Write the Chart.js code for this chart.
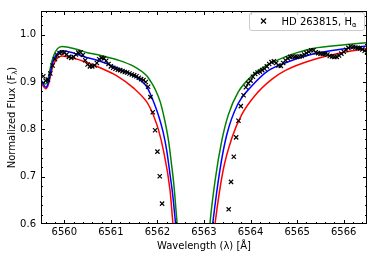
<!DOCTYPE html>
<html>
<head>
<meta charset="utf-8">
<script src="https://cdn.jsdelivr.net/npm/chart.js@4.4.1/dist/chart.umd.min.js"></script>
<style>
html, body { margin: 0; padding: 0; background: #fff; }
</style>
</head>
<body>
<canvas id="halphaChart" width="374" height="262"></canvas>
<script>
// observed spectrum (black crosses)
var obsWave = [6559.55, 6559.60, 6559.65, 6559.70, 6559.75, 6559.80, 6559.85, 6559.90, 6559.95, 6560.00,
	6560.05, 6560.10, 6560.15, 6560.20, 6560.25, 6560.30, 6560.35, 6560.40, 6560.45, 6560.50,
	6560.55, 6560.60, 6560.65, 6560.70, 6560.75, 6560.80, 6560.85, 6560.90, 6560.95, 6561.00,
	6561.05, 6561.10, 6561.15, 6561.20, 6561.25, 6561.30, 6561.35, 6561.40, 6561.45, 6561.50,
	6561.55, 6561.60, 6561.65, 6561.70, 6561.75, 6561.80, 6561.85, 6561.90, 6561.95, 6562.00,
	6562.05, 6562.10,
	6563.53, 6563.58, 6563.64, 6563.69, 6563.74, 6563.79, 6563.85, 6563.90, 6563.95, 6564.00,
	6564.05, 6564.10, 6564.15, 6564.20, 6564.25, 6564.30, 6564.35, 6564.40, 6564.45, 6564.50,
	6564.55, 6564.60, 6564.65, 6564.70, 6564.75, 6564.80, 6564.85, 6564.90, 6564.95, 6565.00,
	6565.05, 6565.10, 6565.15, 6565.20, 6565.25, 6565.30, 6565.35, 6565.40, 6565.45, 6565.50,
	6565.55, 6565.60, 6565.65, 6565.70, 6565.75, 6565.80, 6565.85, 6565.90, 6565.95, 6566.00,
	6566.05, 6566.10, 6566.15, 6566.20, 6566.25, 6566.30, 6566.35, 6566.40, 6566.45, 6566.50];
var obsFlux = [0.912, 0.903, 0.905, 0.918, 0.935, 0.948, 0.956, 0.961, 0.963, 0.962,
	0.958, 0.953, 0.951, 0.953, 0.958, 0.962, 0.963, 0.957, 0.946, 0.937,
	0.933, 0.933, 0.935, 0.940, 0.948, 0.951, 0.950, 0.945, 0.938, 0.933,
	0.930, 0.928, 0.926, 0.925, 0.923, 0.921, 0.920, 0.918, 0.916, 0.914,
	0.912, 0.909, 0.906, 0.904, 0.900, 0.890, 0.868, 0.836, 0.798, 0.753,
	0.701, 0.643,
	0.631, 0.689, 0.742, 0.783, 0.818, 0.849, 0.872, 0.889, 0.897, 0.903,
	0.911, 0.917, 0.920, 0.922, 0.925, 0.928, 0.933, 0.938, 0.942, 0.944,
	0.940, 0.935, 0.934, 0.940, 0.946, 0.950, 0.953, 0.954, 0.953, 0.953,
	0.954, 0.955, 0.958, 0.961, 0.964, 0.967, 0.967, 0.963, 0.961, 0.960,
	0.959, 0.959, 0.958, 0.955, 0.954, 0.953, 0.953, 0.956, 0.960, 0.964,
	0.968, 0.972, 0.975, 0.974, 0.973, 0.972, 0.971, 0.969, 0.966, 0.963];

// model profiles
var greenWave = [6559.50, 6559.55, 6559.60, 6559.65, 6559.70, 6559.77, 6559.85, 6559.95, 6560.10, 6560.30,
	6560.50, 6560.70, 6560.90, 6561.13, 6561.49, 6561.77, 6561.85, 6561.95, 6562.06, 6562.15,
	6562.24, 6562.30, 6562.35, 6562.42, 6562.48, 6562.80, 6563.08, 6563.13, 6563.24, 6563.38,
	6563.52, 6563.73, 6564.03, 6564.38, 6564.74, 6565.00, 6565.34, 6566.07, 6566.50];
var greenFlux = [0.903, 0.897, 0.896, 0.906, 0.930, 0.955, 0.970, 0.975, 0.973, 0.968,
	0.962, 0.958, 0.953, 0.947, 0.933, 0.913, 0.902, 0.885, 0.858, 0.822,
	0.775, 0.728, 0.686, 0.604, 0.540, 0.300, 0.540, 0.603, 0.693, 0.775,
	0.830, 0.878, 0.913, 0.937, 0.953, 0.962, 0.971, 0.979, 0.983];

var blueWave = [6559.50, 6559.55, 6559.61, 6559.66, 6559.72, 6559.77, 6559.85, 6559.95, 6560.20, 6560.41,
	6560.77, 6561.13, 6561.49, 6561.77, 6561.85, 6561.93, 6562.02, 6562.12, 6562.20, 6562.27,
	6562.33, 6562.39, 6562.45, 6562.80, 6563.12, 6563.19, 6563.34, 6563.49, 6563.73, 6564.03,
	6564.38, 6564.74, 6565.34, 6566.07, 6566.50];
var blueFlux = [0.905, 0.895, 0.889, 0.900, 0.928, 0.947, 0.960, 0.966, 0.961, 0.954,
	0.944, 0.930, 0.913, 0.890, 0.874, 0.855, 0.830, 0.795, 0.755, 0.705,
	0.660, 0.600, 0.540, 0.300, 0.540, 0.603, 0.713, 0.789, 0.854, 0.892,
	0.924, 0.940, 0.959, 0.971, 0.976];

var redWave = [6559.50, 6559.55, 6559.61, 6559.66, 6559.72, 6559.77, 6559.85, 6559.95, 6560.20, 6560.41,
	6560.77, 6561.13, 6561.49, 6561.77, 6561.85, 6561.92, 6562.02, 6562.13, 6562.27, 6562.33,
	6562.39, 6562.80, 6563.17, 6563.24, 6563.41, 6563.60, 6563.81, 6564.10, 6564.46, 6564.74,
	6565.34, 6566.07, 6566.50];
var redFlux = [0.900, 0.891, 0.886, 0.895, 0.920, 0.937, 0.950, 0.955, 0.950, 0.944,
	0.930, 0.913, 0.887, 0.858, 0.844, 0.828, 0.800, 0.755, 0.672, 0.604,
	0.540, 0.300, 0.540, 0.603, 0.713, 0.782, 0.831, 0.872, 0.906, 0.924,
	0.947, 0.964, 0.971];

// tick labels
var xTicks = [6560, 6561, 6562, 6563, 6564, 6565, 6566];
var yTicks = [0.6, 0.7, 0.8, 0.9, 1.0];

var legendName = 'HD 263815, H';
var legendSub = 'α';

function pairs(xs, ys) {
	return xs.map(function(x, i) { return { x: x, y: ys[i] }; });
}

var FONT = 'DejaVu Sans';

// frame + inward ticks on all four sides (matplotlib look)
var frameTicks = {
	id: 'frameTicks',
	afterDatasetsDraw: function(chart) {
		var ctx = chart.ctx, a = chart.chartArea;
		var xs = chart.scales.x, ys = chart.scales.y;
		ctx.save();
		ctx.strokeStyle = '#000';
		ctx.lineWidth = 1;
		ctx.beginPath();
		var v, p, len;
		for (v = 6559.6; v < 6566.5; v += 0.2) {
			p = Math.round(xs.getPixelForValue(v)) + 0.5;
			len = Math.abs(v - Math.round(v)) < 1e-6 ? 4 : 2;
			ctx.moveTo(p, a.bottom); ctx.lineTo(p, a.bottom - len);
			ctx.moveTo(p, a.top); ctx.lineTo(p, a.top + len);
		}
		for (v = 0.62; v < 1.05; v += 0.02) {
			p = Math.round(ys.getPixelForValue(v)) + 0.5;
			len = Math.abs(v * 10 - Math.round(v * 10)) < 1e-6 ? 4 : 2;
			ctx.moveTo(a.left, p); ctx.lineTo(a.left + len, p);
			ctx.moveTo(a.right, p); ctx.lineTo(a.right - len, p);
		}
		ctx.stroke();
		ctx.strokeRect(a.left + 0.5, a.top + 0.5, a.right - a.left - 1, a.bottom - a.top - 1);
		ctx.restore();
	},
	afterDraw: function(chart) {
		var ctx = chart.ctx, a = chart.chartArea;
		ctx.save();
		// y axis title with subscript lambda
		var t1 = 'Normalized Flux (F', t2 = 'λ', t3 = ')';
		ctx.font = '10px "' + FONT + '"';
		var w1 = ctx.measureText(t1).width, w3 = ctx.measureText(t3).width;
		ctx.font = '7px "' + FONT + '"';
		var w2 = ctx.measureText(t2).width;
		var total = w1 + w2 + w3;
		ctx.translate(15, (a.top + a.bottom) / 2);
		ctx.rotate(-Math.PI / 2);
		ctx.fillStyle = '#000';
		ctx.textBaseline = 'alphabetic';
		ctx.textAlign = 'left';
		var x0 = -total / 2;
		ctx.font = '10px "' + FONT + '"';
		ctx.fillText(t1, x0, 0);
		ctx.font = '7px "' + FONT + '"';
		ctx.fillText(t2, x0 + w1, 2);
		ctx.font = '10px "' + FONT + '"';
		ctx.fillText(t3, x0 + w1 + w2, 0);
		ctx.restore();

		// legend box
		ctx.save();
		var bx = 249.5, by = 12.5, bw = 115, bh = 18, r = 2.5;
		ctx.beginPath();
		ctx.moveTo(bx + r, by);
		ctx.arcTo(bx + bw, by, bx + bw, by + bh, r);
		ctx.arcTo(bx + bw, by + bh, bx, by + bh, r);
		ctx.arcTo(bx, by + bh, bx, by, r);
		ctx.arcTo(bx, by, bx + bw, by, r);
		ctx.closePath();
		ctx.fillStyle = 'rgba(255,255,255,0.8)';
		ctx.fill();
		ctx.strokeStyle = '#cccccc';
		ctx.lineWidth = 1;
		ctx.stroke();
		// marker
		ctx.strokeStyle = '#000';
		ctx.lineWidth = 1.2;
		ctx.beginPath();
		ctx.moveTo(261, 18.5); ctx.lineTo(266, 23.5);
		ctx.moveTo(266, 18.5); ctx.lineTo(261, 23.5);
		ctx.stroke();
		ctx.fillStyle = '#000';
		ctx.textBaseline = 'alphabetic';
		ctx.font = '10px "' + FONT + '"';
		ctx.fillText(legendName, 281.5, 24.5);
		var wn = ctx.measureText(legendName).width;
		ctx.font = '7px "' + FONT + '"';
		ctx.fillText(legendSub, 281.5 + wn, 26.5);
		ctx.restore();
	}
};

var chartArea = document.getElementById('halphaChart').getContext('2d');
var myChart = new Chart(chartArea, {
	type: 'scatter',
	data: {
		datasets: [{
			label: 'HD 263815',
			data: pairs(obsWave, obsFlux),
			showLine: false,
			pointStyle: 'crossRot',
			pointRadius: 3,
			pointBorderWidth: 1.2,
			borderColor: '#000',
			backgroundColor: '#000'
		}, {
			label: 'model blue',
			data: pairs(blueWave, blueFlux),
			showLine: true,
			pointRadius: 0,
			borderColor: '#0000ff',
			borderWidth: 1.5,
			cubicInterpolationMode: 'monotone'
		}, {
			label: 'model red',
			data: pairs(redWave, redFlux),
			showLine: true,
			pointRadius: 0,
			borderColor: '#ff0000',
			borderWidth: 1.5,
			cubicInterpolationMode: 'monotone'
		}, {
			label: 'model green',
			data: pairs(greenWave, greenFlux),
			showLine: true,
			pointRadius: 0,
			borderColor: '#008000',
			borderWidth: 1.5,
			cubicInterpolationMode: 'monotone'
		}]
	},
	options: {
		responsive: false,
		animation: false,
		devicePixelRatio: 1,
		layout: { padding: { top: 7, right: 7, left: 0, bottom: 0 } },
		plugins: {
			legend: { display: false },
			tooltip: { enabled: false }
		},
		scales: {
			x: {
				type: 'linear',
				min: 6559.5,
				max: 6566.5,
				grid: { display: false, drawTicks: false },
				border: { display: false },
				afterBuildTicks: function(scale) {
					scale.ticks = xTicks.map(function(v) { return { value: v }; });
				},
				afterFit: function(scale) { scale.height = 38; },
				ticks: {
					padding: 2,
					color: '#000',
					maxRotation: 0,
					font: { family: FONT, size: 10 },
					callback: function(value) { return String(value); }
				},
				title: {
					display: true,
					text: 'Wavelength (λ) [Å]',
					color: '#000',
					font: { family: FONT, size: 10 },
					padding: { top: 0, bottom: 9.5 }
				}
			},
			y: {
				type: 'linear',
				min: 0.6,
				max: 1.05,
				grid: { display: false, drawTicks: false },
				border: { display: false },
				afterBuildTicks: function(scale) {
					scale.ticks = yTicks.map(function(v) { return { value: v }; });
				},
				afterFit: function(scale) { scale.width = 41; },
				ticks: {
					padding: 5,
					color: '#000',
					font: { family: FONT, size: 10 },
					callback: function(value) { return value.toFixed(1); }
				}
			}
		}
	},
	plugins: [frameTicks]
});
</script>
</body>
</html>
